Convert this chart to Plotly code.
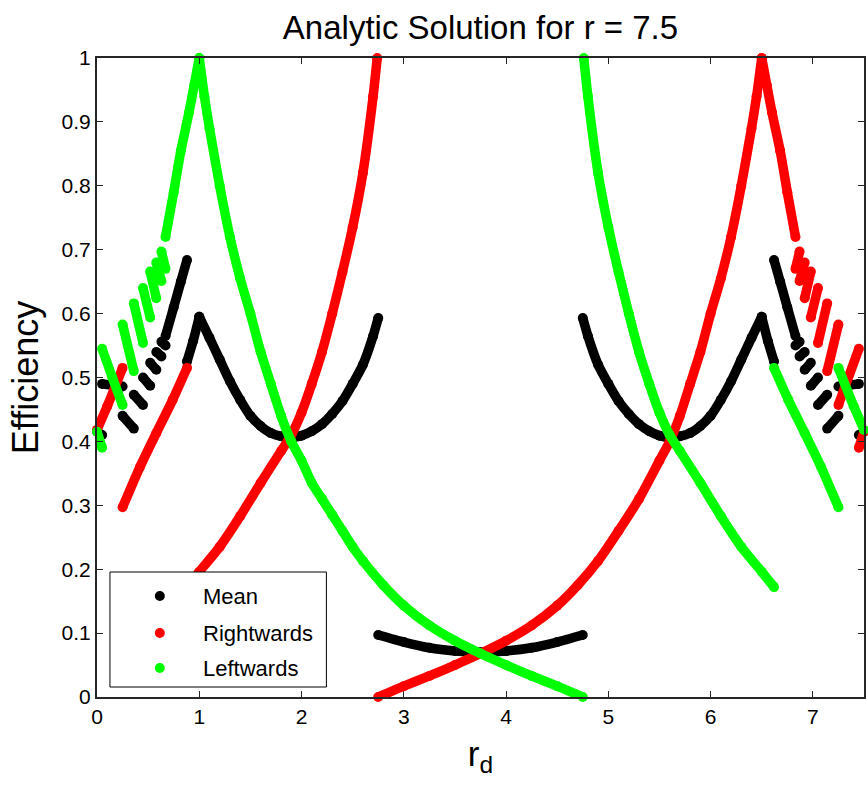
import plotly.graph_objects as go

# ---------------- data ----------------
# Each series is a list of separate continuous pieces (x list, y list).

mean_x = [
    [0.0, 0.05],
    [0.05, 0.15, 0.25],
    [0.25, 0.36],
    [0.36, 0.45],
    [0.45, 0.52],
    [0.52, 0.58],
    [0.58, 0.63],
    [0.63, 0.67],
    [0.67, 0.75, 0.82, 0.88],
    [0.88, 0.94, 1.0],
    [1.0, 1.1, 1.2, 1.3, 1.4, 1.5, 1.6, 1.7, 1.8, 1.9, 2.0, 2.1, 2.2, 2.3, 2.4, 2.5, 2.6, 2.7, 2.75],
    [2.75, 3.0, 3.25, 3.5, 3.75, 4.0, 4.25, 4.5, 4.75],
    [4.75, 4.8, 4.9, 5.0, 5.1, 5.2, 5.3, 5.4, 5.5, 5.6, 5.7, 5.8, 5.9, 6.0, 6.1, 6.2, 6.3, 6.4, 6.5],
    [6.5, 6.56, 6.62],
    [6.62, 6.68, 6.75, 6.83],
    [6.83, 6.87],
    [6.87, 6.92],
    [6.92, 6.98],
    [6.98, 7.05],
    [7.05, 7.14],
    [7.14, 7.25],
    [7.25, 7.35, 7.45],
    [7.45, 7.5],
]
mean_y = [
    [0.415, 0.41],
    [0.49, 0.488, 0.486],
    [0.44, 0.42],
    [0.473, 0.457],
    [0.50, 0.487],
    [0.523, 0.512],
    [0.54, 0.533],
    [0.556, 0.55],
    [0.565, 0.61, 0.65, 0.684],
    [0.525, 0.557, 0.595],
    [0.595, 0.562, 0.528, 0.494, 0.465, 0.44, 0.424, 0.413, 0.408, 0.406, 0.409, 0.416, 0.427, 0.443, 0.463, 0.49, 0.52, 0.565, 0.593],
    [0.097, 0.086, 0.077, 0.072, 0.07, 0.072, 0.077, 0.086, 0.097],
    [0.593, 0.565, 0.52, 0.49, 0.463, 0.443, 0.427, 0.416, 0.409, 0.406, 0.408, 0.413, 0.424, 0.44, 0.465, 0.494, 0.528, 0.562, 0.595],
    [0.595, 0.557, 0.525],
    [0.684, 0.65, 0.61, 0.565],
    [0.55, 0.556],
    [0.533, 0.54],
    [0.512, 0.523],
    [0.487, 0.50],
    [0.457, 0.473],
    [0.42, 0.44],
    [0.486, 0.488, 0.49],
    [0.41, 0.415],
]

right_x = [
    [0.0, 0.1, 0.25],
    [0.25, 0.42, 0.58, 0.74, 0.88],
    [0.88, 1.0, 1.2, 1.4, 1.6, 1.8, 1.9, 2.0, 2.1, 2.2, 2.3, 2.4, 2.5, 2.6, 2.7, 2.74],
    [2.75, 3.0, 3.25, 3.5, 3.75, 4.0, 4.25, 4.5, 4.7, 4.9, 5.1, 5.3, 5.5, 5.6, 5.7, 5.8, 5.9, 6.0, 6.1, 6.2, 6.3, 6.4, 6.45, 6.5],
    [6.5, 6.55, 6.6, 6.68, 6.75, 6.83],
    [6.83, 6.87],
    [6.87, 6.92],
    [6.92, 6.98],
    [6.98, 7.05],
    [7.05, 7.14],
    [7.14, 7.25],
    [7.25, 7.45],
    [7.45, 7.5],
]
right_y = [
    [0.418, 0.455, 0.515],
    [0.297, 0.36, 0.413, 0.465, 0.515],
    [0.172, 0.196, 0.235, 0.283, 0.335, 0.385, 0.41, 0.445, 0.49, 0.54, 0.60, 0.665, 0.735, 0.82, 0.94, 1.0],
    [0.0, 0.017, 0.033, 0.05, 0.068, 0.088, 0.112, 0.143, 0.175, 0.213, 0.26, 0.31, 0.37, 0.40, 0.44, 0.49, 0.54, 0.60, 0.655, 0.72, 0.80, 0.89, 0.94, 1.0],
    [1.0, 0.957, 0.915, 0.855, 0.79, 0.72],
    [0.67, 0.697],
    [0.651, 0.68],
    [0.624, 0.666],
    [0.594, 0.64],
    [0.554, 0.616],
    [0.51, 0.583],
    [0.457, 0.545],
    [0.39, 0.415],
]

left_x = [
    [0.0, 0.05],
    [0.05, 0.15, 0.25],
    [0.25, 0.36],
    [0.36, 0.45],
    [0.45, 0.52],
    [0.52, 0.58],
    [0.58, 0.63],
    [0.63, 0.67],
    [0.67, 0.75, 0.82, 0.9, 0.95, 1.0],
    [1.0, 1.05, 1.1, 1.2, 1.3, 1.4, 1.5, 1.6, 1.7, 1.8, 1.9, 2.0, 2.1, 2.2, 2.3, 2.4, 2.5, 2.6, 2.8, 3.0, 3.25, 3.5, 3.75, 4.0, 4.25, 4.5, 4.75],
    [4.76, 4.8, 4.9, 5.0, 5.1, 5.2, 5.3, 5.4, 5.5, 5.6, 5.7, 5.9, 6.1, 6.3, 6.5, 6.62],
    [6.62, 6.76, 6.92, 7.08, 7.25],
    [7.25, 7.4, 7.5],
]
left_y = [
    [0.415, 0.39],
    [0.545, 0.50, 0.457],
    [0.583, 0.51],
    [0.616, 0.554],
    [0.64, 0.594],
    [0.666, 0.624],
    [0.68, 0.651],
    [0.697, 0.67],
    [0.72, 0.79, 0.855, 0.915, 0.957, 1.0],
    [1.0, 0.94, 0.89, 0.80, 0.72, 0.655, 0.60, 0.54, 0.49, 0.44, 0.40, 0.37, 0.335, 0.31, 0.285, 0.26, 0.235, 0.213, 0.175, 0.143, 0.112, 0.088, 0.068, 0.05, 0.033, 0.017, 0.0],
    [1.0, 0.94, 0.82, 0.735, 0.665, 0.60, 0.54, 0.49, 0.445, 0.41, 0.385, 0.335, 0.283, 0.235, 0.196, 0.172],
    [0.515, 0.465, 0.413, 0.36, 0.297],
    [0.515, 0.455, 0.418],
]

series_names = ["Mean", "Rightwards", "Leftwards"]
series_colors = ["#000000", "#ff0000", "#00ff00"]

x_ticks = [0, 1, 2, 3, 4, 5, 6, 7]
y_ticks = [0, 0.1, 0.2, 0.3, 0.4, 0.5, 0.6, 0.7, 0.8, 0.9, 1.0]
y_tick_text = ["0", "0.1", "0.2", "0.3", "0.4", "0.5", "0.6", "0.7", "0.8", "0.9", "1"]

# ---------------- figure ----------------
FONT = "Liberation Sans, Arial, sans-serif"
W, H = 868, 790
ML, MR, MT, MB = 97, 2, 58, 93
PW, PH = W - ML - MR, H - MT - MB


def join_pieces(xs, ys):
    ox, oy = [], []
    for px, py in zip(xs, ys):
        ox += list(px) + [None]
        oy += list(py) + [None]
    return ox, oy


def px_to_paper(px, py):
    return (px - ML) / PW, (H - MB - py) / PH


fig = go.Figure()
for name, color, xs, ys in zip(series_names, series_colors,
                               [mean_x, right_x, left_x],
                               [mean_y, right_y, left_y]):
    X, Y = join_pieces(xs, ys)
    fig.add_trace(go.Scatter(
        x=X, y=Y, name=name, mode="lines+markers",
        line=dict(color=color, width=9.5, shape="spline", smoothing=0.6),
        marker=dict(color=color, size=10, line=dict(width=0)),
        connectgaps=False, cliponaxis=False, showlegend=False,
    ))

# manual MATLAB-style legend box
shapes = []
annotations = []
bx0, by0 = px_to_paper(110, 687)
bx1, by1 = px_to_paper(327, 572)
shapes.append(dict(type="rect", xref="paper", yref="paper", x0=bx0, x1=bx1, y0=by0, y1=by1,
                   line=dict(color="black", width=1), fillcolor="white", layer="above"))
row_py = [596, 633, 668]
for name, color, rpy in zip(series_names, series_colors, row_py):
    dx, dy = px_to_paper(160, rpy)
    shapes.append(dict(type="circle", xref="paper", yref="paper",
                       xsizemode="pixel", ysizemode="pixel",
                       xanchor=dx, yanchor=dy, x0=-5, x1=5, y0=-5, y1=5,
                       fillcolor=color, line=dict(width=0), layer="above"))
    tx, ty = px_to_paper(201, rpy)
    annotations.append(dict(text=name, x=tx, y=ty, xref="paper", yref="paper",
                            xanchor="left", yanchor="middle", showarrow=False,
                            font=dict(size=22, family=FONT, color="black")))

fig.update_layout(
    width=W, height=H,
    margin=dict(l=ML, r=MR, t=MT, b=MB),
    paper_bgcolor="white", plot_bgcolor="white",
    font=dict(family=FONT, color="black"),
    title=dict(text="Analytic Solution for r = 7.5", x=0.5, xref="paper",
               y=1 - 27 / H, yref="container", yanchor="middle",
               font=dict(size=33, family=FONT, color="black")),
    showlegend=False,
    shapes=shapes,
    annotations=annotations,
)
fig.update_xaxes(range=[0, 7.5], tickvals=x_ticks, ticks="inside", ticklen=6,
                 showline=True, linecolor="#262626", linewidth=2, mirror="ticks",
                 tickcolor="#262626", showgrid=False, zeroline=False,
                 tickfont=dict(size=21, family=FONT, color="black"),
                 title=dict(text="r<sub>d</sub>", font=dict(size=35, family=FONT, color="black"),
                            standoff=14))
fig.update_yaxes(range=[0, 1], tickvals=y_ticks, ticktext=y_tick_text, ticks="inside",
                 ticklen=6, showline=True, linecolor="#262626", linewidth=2,
                 mirror="ticks", tickcolor="#262626", showgrid=False, zeroline=False,
                 tickfont=dict(size=21, family=FONT, color="black"),
                 title=dict(text="Efficiency", font=dict(size=36, family=FONT, color="black"),
                            standoff=12))

fig.write_html("out.html")
